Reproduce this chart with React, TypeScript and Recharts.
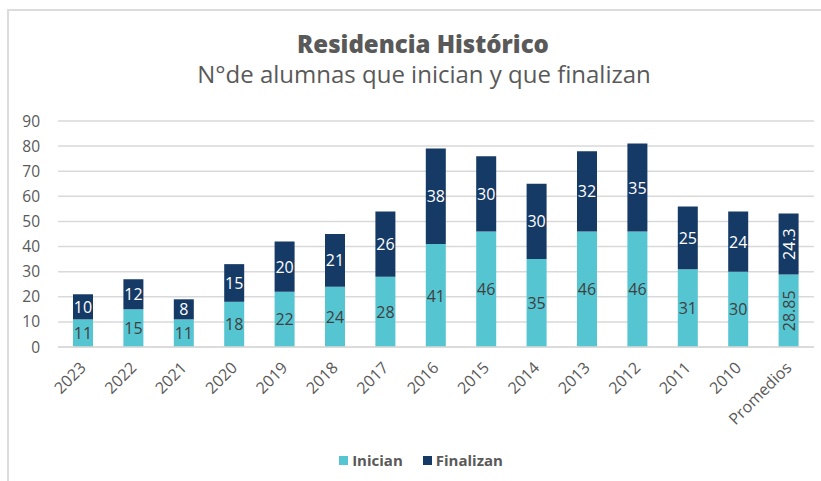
import React from "react";
import { BarChart, Bar, XAxis, YAxis, CartesianGrid, LabelList } from "recharts";

const categories = ["2023", "2022", "2021", "2020", "2019", "2018", "2017", "2016", "2015", "2014", "2013", "2012", "2011", "2010", "Promedios"];
const inician = [11, 15, 11, 18, 22, 24, 28, 41, 46, 35, 46, 46, 31, 30, 28.85];
const finalizan = [10, 12, 8, 15, 20, 21, 26, 38, 30, 30, 32, 35, 25, 24, 24.3];
const yTicks = [0, 10, 20, 30, 40, 50, 60, 70, 80, 90];

const data = categories.map((c, i) => ({ name: c, inician: inician[i], finalizan: finalizan[i] }));

const FONT = "'Open Sans', 'DejaVu Sans', sans-serif";
const C_INI = "#56C5D2";
const C_FIN = "#163A66";

const XTick = (props: any) => {
  const { x, y, payload } = props;
  const ax = x - 4;
  const ay = y + 6;
  return (
    <text x={ax} y={ay} transform={`rotate(-45, ${ax}, ${ay})`} textAnchor="end" dy={11}
      fill="#595959" fontSize={16} fontFamily={FONT}>
      {payload.value}
    </text>
  );
};

const makeLabel = (color: string) => (props: any) => {
  const { x, y, width, height, value, index } = props;
  const cx = x + width / 2;
  const cy = y + height / 2;
  if (index === categories.length - 1) {
    return (
      <text x={cx} y={cy} transform={`rotate(-90, ${cx}, ${cy})`} textAnchor="middle" dominantBaseline="central"
        fill={color} fontSize={16} fontFamily={FONT}>
        {value}
      </text>
    );
  }
  return (
    <text x={cx} y={cy} textAnchor="middle" dominantBaseline="central" fill={color} fontSize={16} fontFamily={FONT}>
      {value}
    </text>
  );
};

export default function App() {
  return (
    <div style={{ position: "absolute", left: 0, top: 0, width: 821, height: 481, background: "#fff", overflow: "hidden" }}>
      <div style={{ position: "absolute", left: 7, top: 9, width: 830, height: 500, borderLeft: "2px solid #dcdcdc", borderTop: "2px solid #dcdcdc" }} />
      <div style={{ position: "absolute", left: 0, width: 846, top: 27, textAlign: "center", fontFamily: FONT, fontWeight: 800, fontSize: 24, color: "#595959" }}>
        Residencia Histórico
      </div>
      <div style={{ position: "absolute", left: 0, width: 848, top: 57, textAlign: "center", fontFamily: FONT, fontSize: 24, color: "#595959" }}>
        N°de alumnas que inician y que finalizan
      </div>
      <div style={{ position: "absolute", left: 0, top: 0 }}>
        <BarChart width={821} height={481} data={data} margin={{ top: 121, right: 7, bottom: 74, left: 18 }} barSize={20}>
          <CartesianGrid vertical={false} stroke="#d9d9d9" strokeWidth={1.5} />
          <XAxis dataKey="name" interval={0} height={60} tickLine={false} axisLine={{ stroke: "#d9d9d9", strokeWidth: 1.5 }} tick={<XTick />} />
          <YAxis domain={[0, 90]} ticks={yTicks} width={40} axisLine={false} tickLine={false} tickSize={0} tickMargin={18}
            tick={{ fill: "#595959", fontSize: 15.5, fontFamily: FONT }} />
          <Bar dataKey="inician" stackId="a" fill={C_INI} isAnimationActive={false}>
            <LabelList dataKey="inician" content={makeLabel("#404040")} />
          </Bar>
          <Bar dataKey="finalizan" stackId="a" fill={C_FIN} isAnimationActive={false}>
            <LabelList dataKey="finalizan" content={makeLabel("#ffffff")} />
          </Bar>
        </BarChart>
      </div>
      <div style={{ position: "absolute", top: 450, left: 0, width: 842, display: "flex", justifyContent: "center", gap: 20, fontFamily: FONT, fontWeight: 700, fontSize: 15, color: "#595959" }}>
        <div style={{ display: "flex", alignItems: "center" }}>
          <span style={{ display: "inline-block", width: 9, height: 9, background: C_INI, marginRight: 4 }} />Inician
        </div>
        <div style={{ display: "flex", alignItems: "center" }}>
          <span style={{ display: "inline-block", width: 9, height: 9, background: C_FIN, marginRight: 4 }} />Finalizan
        </div>
      </div>
    </div>
  );
}
